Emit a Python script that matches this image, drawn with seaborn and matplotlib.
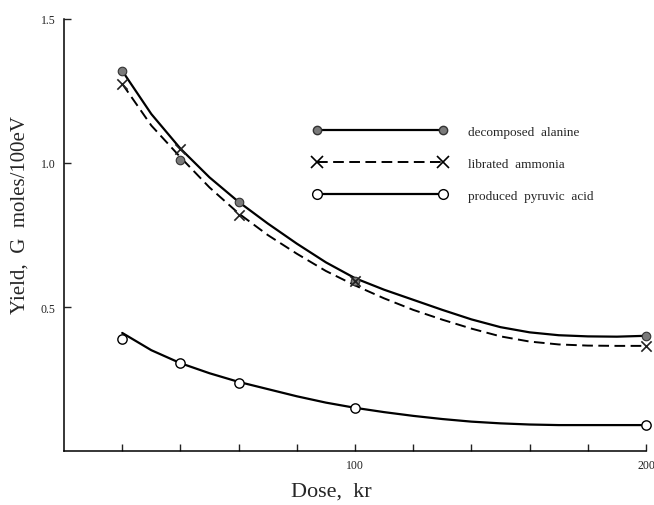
import matplotlib
matplotlib.use("Agg")
import matplotlib.pyplot as plt
from matplotlib.lines import Line2D
import pandas
import seaborn

# measured points
dose = [20, 40, 60, 100, 200]
alanine = [1.32, 1.01, 0.865, 0.59, 0.40]
ammonia = [1.275, 1.05, 0.82, 0.59, 0.365]
pyruvic = [0.39, 0.305, 0.235, 0.15, 0.09]

# hand drawn curves
curve_dose = [20, 30, 40, 50, 60, 70, 80, 90, 100, 110, 120, 130, 140, 150, 160, 170, 180, 190, 200]
alanine_curve = [1.32, 1.17, 1.05, 0.95, 0.865, 0.79, 0.72, 0.655, 0.60, 0.56, 0.525, 0.49, 0.457,
                 0.43, 0.412, 0.402, 0.398, 0.397, 0.40]
ammonia_curve = [1.275, 1.13, 1.02, 0.915, 0.825, 0.75, 0.685, 0.625, 0.575, 0.53, 0.49, 0.456, 0.425,
                 0.398, 0.38, 0.37, 0.366, 0.365, 0.365]
pyruvic_curve = [0.41, 0.35, 0.305, 0.27, 0.24, 0.215, 0.19, 0.168, 0.15, 0.135, 0.122, 0.111, 0.102,
                 0.096, 0.092, 0.09, 0.09, 0.09, 0.09]

labels = ["decomposed  alanine", "librated  ammonia", "produced  pyruvic  acid"]

seaborn.set_style("ticks")
plt.rcParams['font.family'] = ['Liberation Serif', 'DejaVu Serif']

points = pandas.DataFrame({"dose": dose, "alanine": alanine, "ammonia": ammonia, "pyruvic": pyruvic})
curves = pandas.DataFrame({"dose": curve_dose, "alanine": alanine_curve,
                           "ammonia": ammonia_curve, "pyruvic": pyruvic_curve})

dash = (0, (5.5, 2.8))

fig = plt.figure(figsize=(6.54, 5.06), dpi=100)
ax = fig.add_axes([0.0979, 0.1067, 0.8899, 0.8538])

#curves
seaborn.lineplot(data=curves, x="dose", y="alanine", ax=ax, color="black", lw=1.6)
seaborn.lineplot(data=curves, x="dose", y="ammonia", ax=ax, color="black", lw=1.4, linestyle=dash)
seaborn.lineplot(data=curves, x="dose", y="pyruvic", ax=ax, color="black", lw=1.6)

#points
seaborn.scatterplot(data=points, x="dose", y="alanine", ax=ax, marker="o", s=38,
                    color="#7a7a7a", edgecolor="#333333", linewidth=0.8, zorder=5, clip_on=False)
seaborn.scatterplot(data=points, x="dose", y="ammonia", ax=ax, marker="x", s=55,
                    color="#222222", linewidth=1.2, zorder=5, clip_on=False)
seaborn.scatterplot(data=points, x="dose", y="pyruvic", ax=ax, marker="o", s=45,
                    color="white", edgecolor="black", linewidth=1.0, zorder=5, clip_on=False)

ax.set_xlim(0, 200)
ax.set_ylim(0, 1.5)
ax.set_xticks(range(20, 201, 20))
ax.set_xticklabels(["" if t not in (100, 200) else str(t) for t in range(20, 201, 20)])
ax.set_yticks([0.5, 1.0, 1.5])
ax.set_yticklabels(["0.5", "1.0", "1.5"])
ax.tick_params(direction="in", length=5, width=1.0, labelsize=8.5, colors="#222222", pad=6)
for s in ["left", "bottom"]:
    ax.spines[s].set_linewidth(1.1)
    ax.spines[s].set_color("black")
ax.spines["top"].set_visible(False)
ax.spines["right"].set_visible(False)

ax.set_xlabel("Dose,  kr", fontsize=16, va="center")
ax.xaxis.set_label_coords(0.459, -0.093)
ax.set_ylabel("Yield,  G  moles/100eV", fontsize=15, va="center")
ax.yaxis.set_label_coords(-0.076, 0.549)

handles = [
    Line2D([], [], color="black", lw=1.6, marker="o", markersize=6,
           markerfacecolor="#7a7a7a", markeredgecolor="#333333"),
    Line2D([], [], color="black", lw=1.4, linestyle=dash, marker="x",
           markersize=8, markeredgewidth=1.2),
    Line2D([], [], color="black", lw=1.6, marker="o", markersize=7,
           markerfacecolor="white", markeredgecolor="black"),
]
fig.legend(handles, labels, loc="upper left", bbox_to_anchor=(306 / 654, 1 - 120 / 506),
           frameon=False, numpoints=2, handlelength=10.2, handletextpad=1.6,
           labelspacing=1.5, borderpad=0, fontsize=9.5)

fig.savefig("out.png", dpi=100)
